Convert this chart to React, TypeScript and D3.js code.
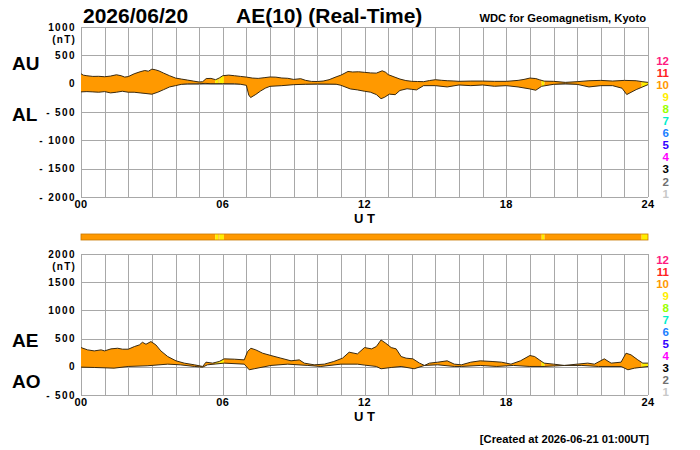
import * as d3 from 'd3'

// readings taken off the plot: [UT hour, nT]
const auData: [number, number][] = [
  [0, 175], [0.1, 150], [0.25, 140], [0.5, 128], [0.75, 130], [1.0, 122], [1.25, 134], [1.5, 157],
  [1.7, 140], [1.85, 116], [2.0, 125], [2.25, 174], [2.5, 210], [2.7, 232], [2.85, 220], [3.0, 256],
  [3.15, 245], [3.3, 225], [3.5, 186], [3.75, 140], [4.0, 99], [4.25, 81], [4.5, 64], [4.75, 46],
  [5.0, 29], [5.15, 35], [5.3, 90], [5.5, 93], [5.7, 70], [5.85, 100], [6.0, 140], [6.25, 151],
  [6.5, 140], [6.75, 128], [7.0, 116], [7.25, 99], [7.5, 93], [7.75, 105], [8.0, 118], [8.25, 115],
  [8.5, 100], [8.75, 95], [9.0, 75], [9.3, 88], [9.5, 59], [9.75, 40], [10.0, 38], [10.25, 46],
  [10.5, 70], [10.8, 120], [11.0, 150], [11.3, 215], [11.5, 206], [11.75, 210], [12.0, 200],
  [12.25, 190], [12.5, 186], [12.75, 227], [12.9, 200], [13.0, 160], [13.25, 120], [13.5, 81],
  [13.75, 55], [14.0, 41], [14.25, 38], [14.5, 35], [14.75, 55], [15.0, 70], [15.25, 60], [15.5, 52],
  [15.75, 48], [16.0, 41], [16.5, 46], [17.0, 46], [17.5, 41], [18.0, 41], [18.5, 58], [18.75, 75],
  [19.0, 99], [19.25, 90], [19.4, 70], [19.6, 45], [20.0, 41], [20.5, 23], [21.0, 35], [21.5, 52],
  [22.0, 58], [22.5, 46], [23.0, 58], [23.5, 52], [23.75, 35], [24.0, 23],
]

const alData: [number, number][] = [
  [0, -145], [0.25, -140], [0.5, -145], [0.75, -151], [1.0, -140], [1.25, -163], [1.5, -151],
  [1.75, -134], [2.0, -151], [2.25, -151], [2.5, -163], [2.75, -174], [3.0, -186], [3.25, -151],
  [3.5, -105], [3.75, -58], [4.0, -35], [4.25, -12], [4.5, -3], [5.0, -2], [5.25, 5], [5.5, 0],
  [6.0, 0], [6.5, -2], [6.75, -10], [7.0, -30], [7.1, -200], [7.18, -245], [7.4, -190], [7.6, -130],
  [7.8, -80], [8.0, -47], [8.5, -35], [9.0, -18], [9.5, -10], [10.0, -6], [10.5, -8], [10.8, -10],
  [11.0, -29], [11.4, -93], [11.7, -110], [12.0, -134], [12.25, -150], [12.5, -192], [12.7, -265],
  [12.85, -240], [13.05, -185], [13.3, -194], [13.5, -120], [13.8, -90], [14.0, -100], [14.2, -110],
  [14.5, -35], [15.0, -35], [15.5, -58], [16.0, -23], [16.5, -35], [17.0, -23], [17.5, -46],
  [18.0, -35], [18.5, -58], [19.0, -93], [19.25, -116], [19.5, -46], [20.0, -12], [20.5, 0],
  [21.0, -12], [21.5, -58], [22.0, -35], [22.5, -35], [22.9, -80], [23.1, -192], [23.5, -105],
  [24.0, -17],
]

const aeData: [number, number][] = [
  [0, 341], [0.28, 300], [0.56, 282], [0.85, 300], [1.0, 282], [1.27, 318], [1.55, 329], [1.76, 312],
  [2.0, 312], [2.26, 359], [2.47, 388], [2.6, 435], [2.75, 400], [2.96, 447], [3.17, 388], [3.38, 282],
  [3.67, 182], [4.02, 106], [4.37, 65], [4.8, 35], [5.15, 6], [5.29, 82], [5.57, 65], [5.85, 94],
  [6.06, 141], [6.49, 135], [6.91, 123], [7.05, 270], [7.19, 329], [7.4, 300], [7.69, 241],
  [8.04, 200], [8.46, 153], [8.89, 106], [9.24, 123], [9.45, 65], [9.87, 35], [10.3, 47], [10.7, 94],
  [11.07, 153], [11.35, 259], [11.7, 229], [12.0, 341], [12.3, 318], [12.5, 359], [12.7, 476],
  [12.9, 418], [13.13, 341], [13.34, 318], [13.55, 182], [13.76, 153], [14.05, 141], [14.33, 65],
  [14.54, 24], [14.75, 65], [15.1, 82], [15.5, 106], [15.8, 47], [16.1, 35], [16.5, 82], [16.9, 106],
  [17.4, 94], [17.8, 82], [18.2, 47], [18.6, 106], [19.0, 200], [19.2, 182], [19.4, 123], [19.6, 65],
  [20.0, 47], [20.46, 24], [21.0, 47], [21.45, 65], [21.73, 47], [22.15, 141], [22.44, 65],
  [22.86, 82], [23.07, 241], [23.28, 212], [23.57, 123], [23.78, 65], [24.0, 65],
]

const aoData: [number, number][] = [
  [0, -6], [0.56, -12], [1.4, -24], [2.0, 6], [2.8, 18], [3.67, 47], [4.2, 35], [4.8, 6], [5.15, -6],
  [5.35, 35], [6.06, 65], [6.91, 47], [7.12, -53], [7.33, -35], [8.04, 24], [8.75, 47], [9.6, 24],
  [10.15, 6], [11.0, 47], [11.7, 47], [12.0, 30], [12.5, 6], [12.7, -35], [13.13, -12], [13.55, 6],
  [14.1, -35], [14.54, 24], [15.1, 35], [15.8, 6], [16.1, 6], [16.9, 24], [17.6, 6], [18.3, 24],
  [19.0, 6], [19.6, 6], [20.46, 24], [21.2, 24], [21.9, 6], [22.86, 6], [23.15, -53], [23.43, -24],
  [24.0, 6],
]

// number of stations used, by UT interval
const stationSegments = [
  { from: 0, to: 5.68, n: 10 },
  { from: 5.68, to: 5.82, n: 9 },
  { from: 5.82, to: 5.86, n: 10 },
  { from: 5.86, to: 6.05, n: 9 },
  { from: 6.05, to: 19.5, n: 10 },
  { from: 19.5, to: 19.62, n: 9 },
  { from: 19.62, to: 23.73, n: 10 },
  { from: 23.73, to: 24, n: 9 },
]

const stationCounts = [12, 11, 10, 9, 8, 7, 6, 5, 4, 3, 2, 1]
const stationColors: Record<number, string> = {
  12: '#ff1a80', 11: '#ff2020', 10: '#ff9900', 9: '#ffee00', 8: '#99ff00', 7: '#00eecc',
  6: '#1a80ff', 5: '#3300ff', 4: '#ff00ff', 3: '#000000', 2: '#707070', 1: '#c8c8c8',
}

const hourTicks = d3.range(0, 25)
const xLabels = ['00', '06', '12', '18', '24']
const topYTicks = [1000, 500, 0, -500, -1000, -1500, -2000]
const bottomYTicks = [2000, 1500, 1000, 500, 0, -500]

const FONT = '"Liberation Sans", Arial, Helvetica, sans-serif'
const fmt = (v: number) => (v < 0 ? `- ${Math.abs(v)}` : String(v))

const x = d3.scaleLinear().domain([0, 24]).range([81, 648])

function Panel({
  yScale, ticks, upper, lower, labelUp, labelDown, labelUpY, labelDownY, legendTop, clipId,
}: {
  yScale: d3.ScaleLinear<number, number>
  ticks: number[]
  upper: [number, number][]
  lower: [number, number][]
  labelUp: string
  labelDown: string
  labelUpY: number
  labelDownY: number
  legendTop: number
  clipId: string
}) {
  const [yBottom, yTop] = yScale.range()
  const line = d3.line<[number, number]>().x((d) => x(d[0])).y((d) => yScale(d[1]))
  const band = line(upper) + 'L' + line([...lower].reverse())!.slice(1) + 'Z'

  return (
    <g>
      {/* grid */}
      {hourTicks.map((h) => (
        <line key={'v' + h} x1={Math.round(x(h)) + 0.5} x2={Math.round(x(h)) + 0.5}
          y1={yTop} y2={yBottom} stroke="#a8a8a8" strokeWidth={1} />
      ))}
      {ticks.map((t) => (
        <line key={'h' + t} x1={x(0)} x2={x(24)}
          y1={Math.round(yScale(t)) + 0.5} y2={Math.round(yScale(t)) + 0.5}
          stroke="#a8a8a8" strokeWidth={1} />
      ))}

      {/* band coloured by station count */}
      {stationSegments.map((s, i) => (
        <g key={i}>
          <clipPath id={`${clipId}-${i}`}>
            <rect x={x(s.from)} y={yTop} width={x(s.to) - x(s.from)} height={yBottom - yTop} />
          </clipPath>
          <path d={band} fill={stationColors[s.n]} clipPath={`url(#${clipId}-${i})`} />
        </g>
      ))}
      <path d={line(upper)!} fill="none" stroke="#3a2a10" strokeWidth={1} />
      <path d={line(lower)!} fill="none" stroke="#3a2a10" strokeWidth={1} />

      {/* y tick labels */}
      {ticks.map((t) => (
        <text key={'t' + t} x={76} y={yScale(t)} dy="0.35em" textAnchor="end"
          fontSize={10} fontWeight="bold" letterSpacing={1.4}>{fmt(t)}</text>
      ))}
      <text x={76} y={yTop + 12} dy="0.35em" textAnchor="end" fontSize={10}
        fontWeight="bold" letterSpacing={1.2}>(nT)</text>

      {/* x tick labels */}
      {xLabels.map((l, i) => (
        <text key={l} x={x(i * 6)} y={yBottom + 11} textAnchor="middle" fontSize={11}
          fontWeight="bold" letterSpacing={0.5}>{l}</text>
      ))}
      <text x={x(12)} y={yBottom + 25.5} textAnchor="middle" fontSize={13} fontWeight="bold">U T</text>

      {/* index labels */}
      <text x={12} y={labelUpY} fontSize={19} fontWeight="bold">{labelUp}</text>
      <text x={12} y={labelDownY} fontSize={19} fontWeight="bold">{labelDown}</text>

      {/* station count legend */}
      {stationCounts.map((n, i) => (
        <text key={n} x={669} y={legendTop + i * 12.05} textAnchor="end" fontSize={11.5}
          fontWeight="bold" fill={stationColors[n]}>{n}</text>
      ))}
    </g>
  )
}

export default function App() {
  const yTopPanel = d3.scaleLinear().domain([-2000, 1000]).range([197, 27])
  const yBottomPanel = d3.scaleLinear().domain([-500, 2000]).range([395, 254])

  return (
    <svg width={700} height={450} style={{ position: 'absolute', left: 0, top: 0, background: '#fff' }}
      fontFamily={FONT}>
      <rect width={700} height={450} fill="#fff" />

      <text x={83} y={22.5} fontSize={21} fontWeight="bold">2026/06/20</text>
      <text x={236} y={22.5} fontSize={21} fontWeight="bold">AE(10) (Real-Time)</text>
      <text x={646} y={21.5} textAnchor="end" fontSize={11.2} fontWeight="bold">WDC for Geomagnetism, Kyoto</text>

      <Panel yScale={yTopPanel} ticks={topYTicks} upper={auData} lower={alData}
        labelUp="AU" labelDown="AL" labelUpY={70} labelDownY={121} legendTop={65} clipId="top" />

      {/* station count bar */}
      {stationSegments.map((s, i) => (
        <rect key={i} x={x(s.from)} y={234} width={x(s.to) - x(s.from)} height={6}
          fill={stationColors[s.n]} />
      ))}
      <rect x={x(0)} y={234} width={x(24) - x(0)} height={6} fill="none" stroke="#c87800" strokeWidth={0.8} />

      <Panel yScale={yBottomPanel} ticks={bottomYTicks} upper={aeData} lower={aoData}
        labelUp="AE" labelDown="AO" labelUpY={347} labelDownY={388} legendTop={263.5} clipId="bot" />

      <text x={649} y={443} textAnchor="end" fontSize={11.2} fontWeight="bold">[Created at 2026-06-21 01:00UT]</text>
    </svg>
  )
}
